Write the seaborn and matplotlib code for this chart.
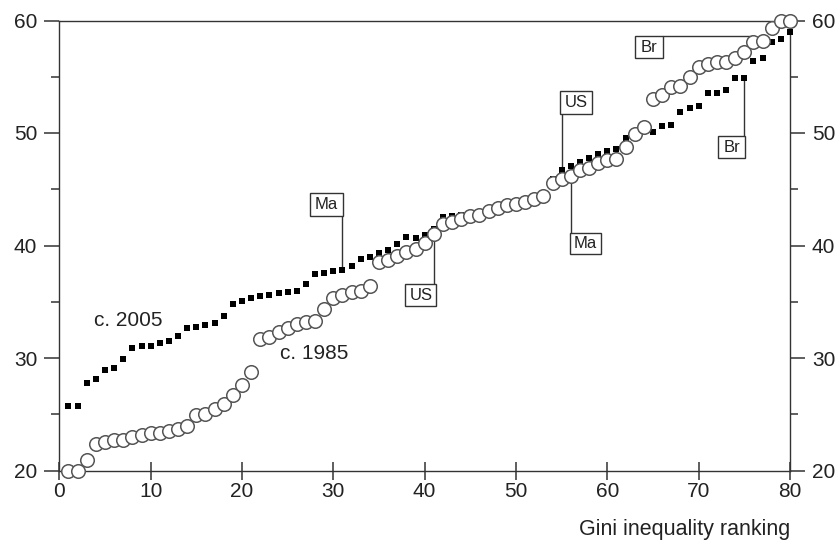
import numpy as np
import pandas as pd
import seaborn as sns
import matplotlib.pyplot as plt
from matplotlib.patches import Rectangle

rank = np.arange(1, 81)

gini_1985 = [20.0, 20.0, 20.9, 22.4, 22.5, 22.7, 22.7, 23.0, 23.2, 23.3,
             23.3, 23.5, 23.7, 24.0, 24.9, 25.0, 25.5, 25.9, 26.7, 27.6,
             28.8, 31.7, 31.9, 32.3, 32.7, 33.0, 33.2, 33.3, 34.4, 35.3,
             35.6, 35.9, 36.0, 36.4, 38.5, 38.7, 39.1, 39.4, 39.7, 40.2,
             41.0, 41.9, 42.1, 42.4, 42.6, 42.7, 43.1, 43.3, 43.6, 43.7,
             43.9, 44.1, 44.4, 45.6, 45.9, 46.2, 46.7, 46.9, 47.3, 47.6,
             47.7, 48.8, 49.9, 50.5, 53.0, 53.4, 54.1, 54.2, 55.0, 55.9,
             56.1, 56.3, 56.3, 56.7, 57.2, 58.1, 58.2, 59.3, 60.0, 60.0]

gini_2005 = [25.7, 25.7, 27.8, 28.1, 28.9, 29.1, 29.9, 30.9, 31.05, 31.1,
             31.35, 31.5, 32.0, 32.7, 32.8, 32.95, 33.1, 33.7, 34.8, 35.1,
             35.35, 35.5, 35.6, 35.8, 35.9, 35.95, 36.6, 37.5, 37.6, 37.7,
             37.8, 38.2, 38.8, 39.0, 39.3, 39.6, 40.15, 40.75, 40.7, 40.9,
             41.5, 42.5, 42.6, 42.7, 42.8, 43.0, 43.3, 43.5, 43.8, 43.9,
             44.1, 44.3, 44.6, 45.9, 46.7, 47.1, 47.4, 47.8, 48.1, 48.4,
             48.6, 49.6, 49.9, 50.2, 50.1, 50.6, 50.7, 51.85, 52.2, 52.4,
             53.6, 53.6, 53.8, 54.9, 54.9, 56.4, 56.7, 58.1, 58.4, 59.0]

df = pd.DataFrame({"rank": rank, "c1985": gini_1985, "c2005": gini_2005})

sns.set_style("ticks")
plt.rcParams['font.family'] = ['Liberation Sans', 'DejaVu Sans']
dark = '#333333'
txt = '#222222'

fig = plt.figure(figsize=(8.36, 5.41), dpi=100)
ax = fig.add_axes([59.3 / 836, 1 - 470.5 / 541, (790 - 59.3) / 836, 450 / 541])

sns.scatterplot(data=df, x="rank", y="c2005", marker="s", s=17, color="black",
                linewidth=0, ax=ax, zorder=3, clip_on=False)
sns.scatterplot(data=df, x="rank", y="c1985", marker="o", s=95, color="white",
                edgecolor="#555555", linewidth=1.1, ax=ax, zorder=4, clip_on=False)

ax.set_xlim(0, 80)
ax.set_ylim(20, 60)
ax.set_xticks(range(0, 81, 10))
ax.set_yticks(range(20, 61, 10))
ax.set_yticks(range(25, 60, 10), minor=True)

for sp in ax.spines.values():
    sp.set_color(dark)
    sp.set_linewidth(1.0)

ax.tick_params(axis='x', direction='inout', length=13, width=1.1, color=dark,
               labelsize=15, labelcolor=txt, pad=2)
ax.tick_params(axis='y', which='major', direction='out', length=10.8, width=1.1,
               color=dark, left=True, right=True, labelleft=True, labelright=True,
               labelsize=15, labelcolor=txt, pad=5)
ax.tick_params(axis='y', which='minor', direction='out', length=6, width=1.1,
               color=dark, left=True, right=True)

ax.set_ylabel("")
ax.set_xlabel("Gini inequality ranking", loc='right', fontsize=15.5,
              color=txt, labelpad=13)

# labelled countries: box (x0, y0, w, h)
def label_box(x0, y0, w, h, text):
    ax.add_patch(Rectangle((x0, y0), w, h, facecolor='white', edgecolor=dark,
                           linewidth=1.0, zorder=5))
    ax.text(x0 + w / 2, y0 + h / 2, text, ha='center', va='center',
            fontsize=12, color=txt, zorder=6)

v85 = dict(zip(rank, gini_1985))
v05 = dict(zip(rank, gini_2005))
lkw = dict(color=dark, linewidth=1.0, zorder=2)

# US
ax.plot([55, 55], [v05[55], 51.7], **lkw)
label_box(54.85, 51.7, 3.47, 2.0, "US")
ax.plot([41, 41], [v85[41], 36.6], **lkw)
label_box(37.9, 34.6, 3.35, 2.0, "US")
# Ma
ax.plot([31, 31], [v05[31], 42.65], **lkw)
label_box(27.5, 42.65, 3.55, 2.05, "Ma")
ax.plot([56, 56], [v85[56], 41.15], **lkw)
label_box(55.9, 39.2, 3.45, 1.95, "Ma")
# Br
ax.plot([75, 75], [v05[75], 49.7], **lkw)
label_box(72.15, 47.8, 2.95, 1.9, "Br")
ax.plot([66.1, 76], [58.6, 58.6], **lkw)
label_box(63.05, 56.65, 3.05, 1.95, "Br")

ax.text(3.8, 33.3, "c. 2005", fontsize=15, va='center', color=txt)
ax.text(24.2, 30.4, "c. 1985", fontsize=15, va='center', color=txt)

fig.savefig("out.png", dpi=100, facecolor='white')
